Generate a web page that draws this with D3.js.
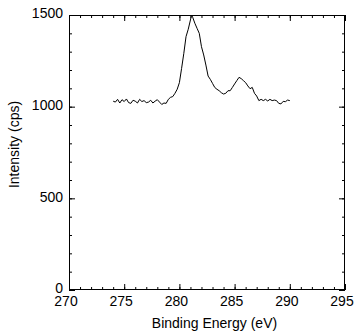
<!DOCTYPE html>
<html>
<head>
<meta charset="utf-8">
<script src="https://cdn.jsdelivr.net/npm/d3@7"></script>
<style>
html, body { margin: 0; padding: 0; background: #fff; }
svg { display: block; }
text { font-family: "Liberation Sans", Arial, sans-serif; fill: #000; }
</style>
</head>
<body>
<svg id="chart" width="360" height="336"></svg>
<script>
// Data (binding energy in eV, intensity in cps)
const energies = [
  274.0, 274.2, 274.4, 274.6, 274.8, 275.0, 275.2, 275.4, 275.6, 275.8,
  276.0, 276.2, 276.4, 276.6, 276.8, 277.0, 277.2, 277.4, 277.6, 277.8,
  278.0, 278.2, 278.4, 278.6, 278.8, 279.0, 279.2, 279.4, 279.6, 279.8,
  280.0, 280.2, 280.4, 280.6, 280.8, 281.0, 281.1, 281.2, 281.4, 281.6,
  281.8, 282.0, 282.2, 282.4, 282.6, 282.8, 283.0, 283.2, 283.4, 283.6,
  283.8, 284.0, 284.2, 284.4, 284.6, 284.8, 285.0, 285.2, 285.4, 285.6,
  285.8, 286.0, 286.2, 286.4, 286.6, 286.8, 287.0, 287.2, 287.4, 287.6,
  287.8, 288.0, 288.2, 288.4, 288.6, 288.8, 289.0, 289.2, 289.4, 289.6,
  289.8, 290.0
];
const intensities = [
  1030, 1025, 1040, 1020, 1038, 1028, 1042, 1022, 1018, 1035,
  1030, 1020, 1040, 1028, 1033, 1022, 1025, 1035, 1020, 1030,
  1038, 1025, 1012, 1020, 1018, 1040, 1051, 1055, 1073, 1095,
  1131, 1209, 1291, 1382, 1422, 1473, 1500, 1488, 1455, 1427,
  1400, 1327, 1282, 1227, 1167, 1149, 1127, 1105, 1095, 1087,
  1076, 1069, 1073, 1087, 1087, 1105, 1124, 1142, 1160, 1153,
  1142, 1131, 1113, 1098, 1105, 1073, 1058, 1033, 1040, 1033,
  1040, 1031, 1040, 1033, 1036, 1033, 1018, 1015, 1029, 1027,
  1036, 1033
];
const xMajorTicks = [270, 275, 280, 285, 290, 295];
const xMinorTicks = d3.range(270, 296, 1);
const yMajorTicks = [0, 500, 1000, 1500];
const yMinorTicks = d3.range(0, 1501, 100);
const xDomain = [270, 295];
const yDomain = [0, 1500];
const xTitle = "Binding Energy (eV)";
const yTitle = "Intensity (cps)";

const points = energies.map((e, i) => ({ e, v: intensities[i] }));

const L = 69, R = 345, T = 15, B = 290;
const svg = d3.select("#chart");
const x = d3.scaleLinear().domain(xDomain).range([L, R]);
const y = d3.scaleLinear().domain(yDomain).range([B, T]);

function styleAxis(g) {
  g.select(".domain").remove();
  g.selectAll(".tick line").attr("stroke", "#000").attr("stroke-width", 1);
  g.selectAll("text").style("font-size", "14px").style("font-family", "'Liberation Sans', Arial, sans-serif").attr("fill", "#000");
}

// bottom
svg.append("g").attr("transform", `translate(0,${B})`)
  .call(d3.axisBottom(x).tickValues(xMinorTicks).tickSize(-3).tickFormat(""))
  .call(styleAxis);
const bx = svg.append("g").attr("transform", `translate(0,${B})`)
  .call(d3.axisBottom(x).tickValues(xMajorTicks).tickSize(-6).tickPadding(6).tickFormat(d3.format("d")))
  .call(styleAxis);
bx.selectAll("text").attr("dx", -3.5);
// top
svg.append("g").attr("transform", `translate(0,${T})`)
  .call(d3.axisTop(x).tickValues(xMinorTicks).tickSize(-3).tickFormat(""))
  .call(styleAxis);
svg.append("g").attr("transform", `translate(0,${T})`)
  .call(d3.axisTop(x).tickValues(xMajorTicks).tickSize(-6).tickFormat(""))
  .call(styleAxis);
// left
svg.append("g").attr("transform", `translate(${L},0)`)
  .call(d3.axisLeft(y).tickValues(yMinorTicks).tickSize(-3).tickFormat(""))
  .call(styleAxis);
const ly = svg.append("g").attr("transform", `translate(${L},0)`)
  .call(d3.axisLeft(y).tickValues(yMajorTicks).tickSize(-6).tickPadding(6).tickFormat(d3.format("d")))
  .call(styleAxis);
ly.selectAll("text").attr("y", -1.5);
// right
svg.append("g").attr("transform", `translate(${R},0)`)
  .call(d3.axisRight(y).tickValues(yMinorTicks).tickSize(-3).tickFormat(""))
  .call(styleAxis);
svg.append("g").attr("transform", `translate(${R},0)`)
  .call(d3.axisRight(y).tickValues(yMajorTicks).tickSize(-6).tickFormat(""))
  .call(styleAxis);

// frame
svg.append("rect")
  .attr("x", L + 0.5).attr("y", T + 0.5)
  .attr("width", R - L - 1).attr("height", B - T - 1)
  .attr("fill", "none").attr("stroke", "#000").attr("stroke-width", 1);

// spectrum
const line = d3.line().x(d => x(d.e)).y(d => y(d.v));
svg.append("path")
  .datum(points)
  .attr("d", line)
  .attr("fill", "none")
  .attr("stroke", "#000")
  .attr("stroke-width", 1);

// axis titles
svg.append("text")
  .attr("x", (L + R) / 2 + 7.5).attr("y", 328)
  .attr("text-anchor", "middle")
  .style("font-size", "14px")
  .text(xTitle);
svg.append("text")
  .attr("transform", `translate(18.5,${(T + B) / 2 - 8}) rotate(-90)`)
  .attr("text-anchor", "middle")
  .style("font-size", "14px")
  .text(yTitle);
</script>
</body>
</html>
